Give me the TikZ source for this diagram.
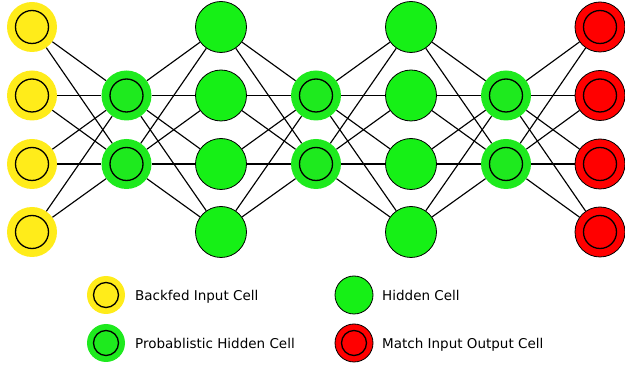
\documentclass[tikz,border=0pt]{standalone}
\usepackage{fontspec}
\setmainfont{DejaVu Sans}
\definecolor{cyel}{RGB}{255,236,26}
\definecolor{cpg}{RGB}{30,234,30}
\definecolor{chid}{RGB}{22,240,22}
\definecolor{cred}{RGB}{255,0,0}
\begin{document}
\begin{tikzpicture}[x=1pt,y=-1pt,
  cellbase/.style={circle,inner sep=0pt,minimum size=#1},
  inner/.style={path picture={\draw[line width=1.3pt] (path picture bounding box.center) circle (#1);}},
  backfed/.style={cellbase=50pt,fill=cyel,inner=16.5pt},
  probhid/.style={cellbase=50pt,fill=cpg,inner=16.5pt},
  hidden/.style={cellbase=51pt,fill=chid,draw=black,line width=0.8pt},
  matchout/.style={cellbase=50pt,fill=cred,draw=black,line width=0.8pt,inner=16.5pt},
  lbackfed/.style={cellbase=38pt,fill=cyel,inner=12.5pt},
  lprobhid/.style={cellbase=38pt,fill=cpg,inner=12.5pt},
  lhidden/.style={cellbase=38pt,fill=chid,draw=black,line width=0.8pt},
  lmatchout/.style={cellbase=38pt,fill=cred,draw=black,line width=0.8pt,inner=12.5pt},
  conn/.style={draw=black,line width=1.15pt},
  legtext/.style={anchor=base west,inner sep=0pt,font=\fontsize{13.5}{16}\selectfont}
]
\useasboundingbox (0,0) rectangle (625,366);
% layers
\foreach \i/\y in {1/27,2/95.5,3/164,4/232}{
  \node[backfed] (a\i) at (32,\y) {};
  \node[hidden] (c\i) at (221,\y) {};
  \node[hidden] (e\i) at (411,\y) {};
  \node[matchout] (g\i) at (600,\y) {};
}
\foreach \i/\y in {1/95.5,2/164}{
  \node[probhid] (b\i) at (126.5,\y) {};
  \node[probhid] (d\i) at (316,\y) {};
  \node[probhid] (f\i) at (506,\y) {};
}
% connections
\foreach \i in {1,...,4}{
  \foreach \j in {1,2}{
    \draw[conn] (a\i) -- (b\j);
    \draw[conn] (b\j) -- (c\i);
    \draw[conn] (c\i) -- (d\j);
    \draw[conn] (d\j) -- (e\i);
    \draw[conn] (e\i) -- (f\j);
    \draw[conn] (f\j) -- (g\i);
  }
}
% legend
\node[lbackfed] (l1) at (106,295) {};
\node[legtext] (t1) at (135,300.5) {Backfed Input Cell};
\node[lprobhid] (l2) at (106,343) {};
\node[legtext] (t2) at (135,348.5) {Probablistic Hidden Cell};
\node[lhidden] (l3) at (354,295) {};
\node[legtext] (t3) at (382,300.5) {Hidden Cell};
\node[lmatchout] (l4) at (354,343) {};
\node[legtext] (t4) at (382,348.5) {Match Input Output Cell};
\end{tikzpicture}
\end{document}
